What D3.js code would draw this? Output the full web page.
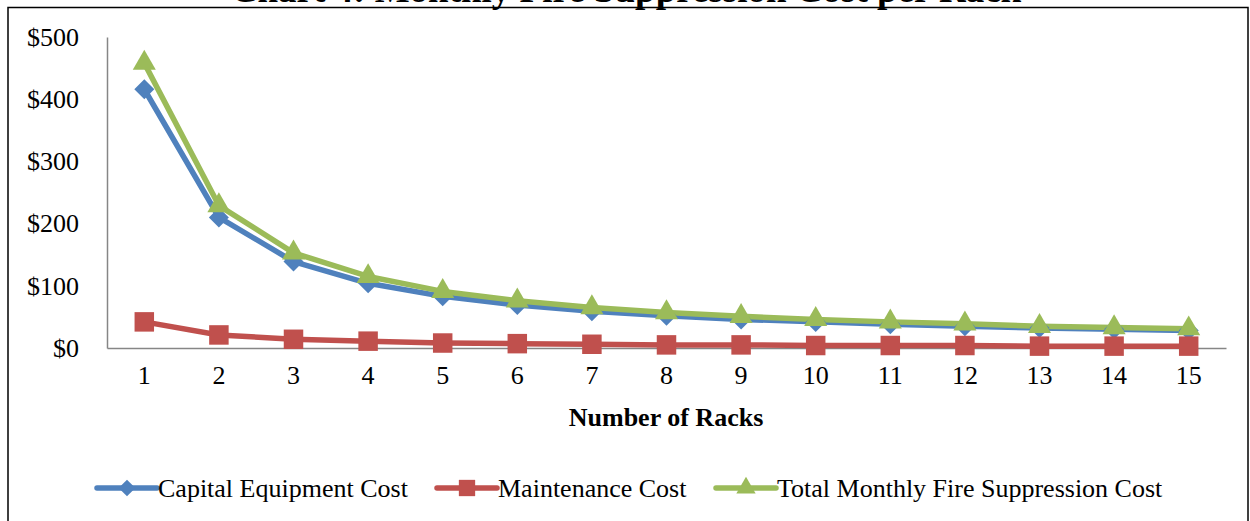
<!DOCTYPE html>
<html>
<head>
<meta charset="utf-8">
<script src="https://cdn.jsdelivr.net/npm/d3@7"></script>
<style>
  html, body { margin: 0; padding: 0; background: #fff; }
  svg { display: block; }
  text { font-family: "Liberation Serif", "Times New Roman", serif; fill: #000; }
</style>
</head>
<body>
<svg id="chart" width="1250" height="521"></svg>
<script>
const racks = [1,2,3,4,5,6,7,8,9,10,11,12,13,14,15];
const capitalCost = [416,210,139,104,83,69,59,52,46,42,38,35,32,30,28];
const maintenanceCost = [42,21,14,11,8,7,6,5,5,4,4,4,3,3,3];
const totalCost = [458,229,153,115,91,76,65,57,51,46,42,39,35,33,31];
const yTicks = [0,100,200,300,400,500];
const seriesNames = ["Capital Equipment Cost","Maintenance Cost","Total Monthly Fire Suppression Cost"];
const titleText = "Chart 4: Monthly Fire Suppression Cost per Rack";
const xTitle = "Number of Racks";

const colors = ["#4F81BD","#C0504D","#9BBB59"];
const symbols = [d3.symbolSquare, d3.symbolSquare, d3.symbolTriangle];
const symRot = [45, 0, 0];
const symSizes = [200, 380, 230];

const svg = d3.select("#chart");

// outer frame
svg.append("rect").attr("x",8).attr("y",7.5).attr("width",1240).attr("height",530)
  .attr("fill","none").attr("stroke","#000").attr("stroke-width",1.5);

// title (cut off at top, as in the source)
svg.append("text").attr("x",626).attr("y",2).attr("text-anchor","middle")
  .attr("font-size",37).attr("font-weight","bold").text(titleText);

const x = d3.scaleBand().domain(racks).range([107,1226]);
const y = d3.scaleLinear().domain([0,500]).range([348,37]);

// axes
const yAxis = svg.append("g").attr("transform","translate(107,0)")
  .call(d3.axisLeft(y).tickValues(yTicks).tickSize(0).tickPadding(28).tickFormat(d => "$" + d));
yAxis.select(".domain").attr("stroke","#868686").attr("stroke-width",1.5);
yAxis.selectAll("text").attr("font-size",26).attr("font-family","Liberation Serif, serif");

const xAxis = svg.append("g").attr("transform","translate(0,348)")
  .call(d3.axisBottom(x).tickSize(0).tickPadding(18));
xAxis.select(".domain").attr("stroke","#868686").attr("stroke-width",1.5);
xAxis.selectAll("text").attr("font-size",26).attr("font-family","Liberation Serif, serif");

svg.append("text").attr("x",666).attr("y",426).attr("text-anchor","middle")
  .attr("font-size",26).attr("font-weight","bold").text(xTitle);

const data = [capitalCost, maintenanceCost, totalCost];
const cx = i => x(racks[i]) + x.bandwidth()/2;
const line = d3.line().x((d,i) => cx(i)).y(d => y(d));

data.forEach((vals, s) => {
  svg.append("path").datum(vals).attr("d", line)
    .attr("fill","none").attr("stroke",colors[s]).attr("stroke-width",5.5)
    .attr("stroke-linejoin","round").attr("stroke-linecap","round");
});

[0,2,1].forEach(s => {
  svg.append("g").selectAll("path").data(data[s]).join("path")
    .attr("transform",(d,i) => `translate(${cx(i)},${y(d)}) rotate(${symRot[s]})`)
    .attr("d", d3.symbol().type(symbols[s]).size(symSizes[s]))
    .attr("fill",colors[s]);
});

// legend
const legendItems = [{x:97},{x:437},{x:716}];
legendItems.forEach((it, s) => {
  const g = svg.append("g").attr("transform",`translate(${it.x},488)`);
  g.append("line").attr("x1",0).attr("x2",60).attr("y1",0).attr("y2",0)
    .attr("stroke",colors[s]).attr("stroke-width",5.5).attr("stroke-linecap","round");
  g.append("path").attr("transform",`translate(30,0) rotate(${symRot[s]})`)
    .attr("d", d3.symbol().type(symbols[s]).size(symSizes[s]*0.7)).attr("fill",colors[s]);
  g.append("text").attr("x",61).attr("y",9).attr("font-size",26).text(seriesNames[s]);
});
</script>
</body>
</html>
